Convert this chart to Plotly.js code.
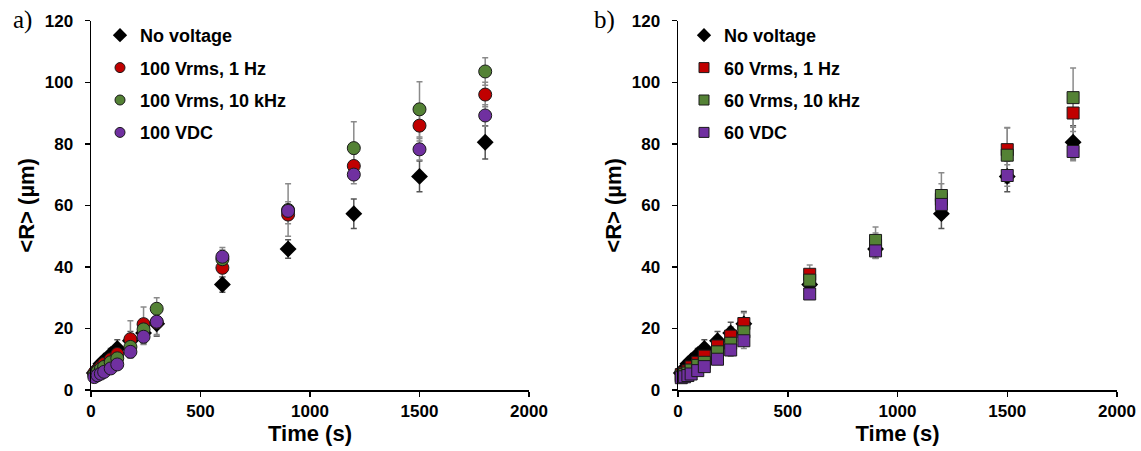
<!DOCTYPE html>
<html>
<head>
<meta charset="utf-8">
<script src="https://cdn.plot.ly/plotly-3.0.1.min.js"></script>
<style>html,body{margin:0;padding:0;background:#fff;}#chart{width:1141px;height:451px;}</style>
</head>
<body>
<div id="chart"></div>
<script>
// Time points (s)
const times = [15, 30, 45, 60, 90, 120, 180, 240, 300, 600, 900, 1200, 1500, 1800];

// Panel a) – 100 V
const noVoltage      = [5.5, 7, 8.5, 9.5, 11.5, 13.5, 16, 18.5, 21.5, 34.3, 45.8, 57.3, 69.4, 80.5];
const noVoltageErr   = [1, 1, 1.2, 1.5, 2, 2.8, 3, 3.5, 4, 2.5, 3, 4.8, 5, 5.4];
const a_1Hz          = [5.5, 6.5, 7.5, 8.5, 10, 11.7, 16.5, 21.4, 22, 39.7, 57, 72.8, 85.9, 96];
const a_1HzErr       = [0.8, 1, 1, 1.5, 2, 2.5, 6, 5.6, 4, 3, 3, 4, 5, 4];
const a_10kHz        = [5, 6, 6.8, 7.5, 9, 10.3, 14, 19.7, 26.4, 42.5, 58.5, 78.6, 91.2, 103.5];
const a_10kHzErr     = [0.5, 0.8, 1, 1, 1.5, 2, 2, 3, 3.6, 3, 8.5, 8.6, 9, 4.5];
const a_DC           = [4.2, 4.8, 5.3, 5.9, 7, 8.3, 12.4, 17.3, 22.2, 43.3, 58.2, 70, 78.2, 89.2];
const a_DCErr        = [0.5, 0.5, 0.8, 1, 1, 1.5, 2, 2.5, 4.5, 3, 3, 3, 3.5, 3.5];

// Panel b) – 60 V
const b_1Hz          = [5, 5.5, 6.2, 7.5, 9, 11, 14.3, 17.5, 21.6, 37.6, 47, 62, 78.1, 90];
const b_1HzErr       = [0.5, 0.8, 1, 1, 1.5, 2, 2.5, 3, 3.5, 3, 4, 5, 7, 6];
const b_10kHz        = [4.5, 5, 5.5, 6.5, 8, 9, 12.4, 15.2, 18.9, 35.7, 48.6, 63.2, 76.3, 95];
const b_10kHzErr     = [0.5, 0.8, 1, 1, 1.5, 2, 2, 2.5, 3, 2.5, 4.4, 7.4, 9, 9.6];
const b_DC           = [4, 4.3, 4.7, 5.2, 6.3, 7.6, 10, 13, 16, 31.2, 45.2, 60.3, 69.7, 77.5];
const b_DCErr        = [0.5, 0.5, 0.8, 1, 1, 1.5, 1.5, 2, 2.5, 1.5, 2.5, 3, 3.5, 3];

// Labels
const namesA = ["No voltage", "100 Vrms, 1 Hz", "100 Vrms, 10 kHz", "100 VDC"];
const namesB = ["No voltage", "60 Vrms, 1 Hz", "60 Vrms, 10 kHz", "60 VDC"];
const colors = ["#000000", "#C00000", "#548235", "#7030A0"];

const seriesA = [[noVoltage, noVoltageErr], [a_1Hz, a_1HzErr], [a_10kHz, a_10kHzErr], [a_DC, a_DCErr]];
const seriesB = [[noVoltage, noVoltageErr], [b_1Hz, b_1HzErr], [b_10kHz, b_10kHzErr], [b_DC, b_DCErr]];

function lineFor(symbol) {
  return symbol === "diamond" ? {color: "#000", width: 0} : {color: "#1a1a1a", width: 1};
}

const traces = [];
// 1) error bars (drawn underneath all markers)
function errTraces(series, xa, ya) {
  series.forEach((d, i) => traces.push({
    type: "scatter", mode: "markers", x: times, y: d[0], xaxis: xa, yaxis: ya, showlegend: false,
    marker: {size: 1, opacity: 0},
    error_y: {type: "data", array: d[1], visible: true, color: i === 0 ? "#555555" : "#8a8a8a", thickness: 1.5, width: 3}
  }));
}
// 2) markers
function markerTraces(series, names, symbolOther, sizeOther, xa, ya) {
  series.forEach((d, i) => {
    const sym = i === 0 ? "diamond" : symbolOther;
    traces.push({
      type: "scatter", mode: "markers", x: times, y: d[0], name: names[i], xaxis: xa, yaxis: ya,
      showlegend: false, cliponaxis: false,
      marker: {color: colors[i], symbol: sym, size: i === 0 ? 13 : sizeOther, line: lineFor(sym)}
    });
  });
}
// 3) legend entries (no data, small symbols as in the original legend)
function legendTraces(names, symbolOther, xa, ya, legend) {
  names.forEach((n, i) => {
    const sym = i === 0 ? "diamond" : symbolOther;
    traces.push({
      type: "scatter", mode: "markers", x: [null], y: [null], name: n, xaxis: xa, yaxis: ya,
      legend: legend, legendgroup: legend + i, showlegend: true,
      marker: {color: colors[i], symbol: sym, size: i === 0 ? 11 : 10, line: lineFor(sym)}
    });
  });
}

errTraces(seriesA, "x", "y");
errTraces(seriesB, "x2", "y2");
markerTraces(seriesA, namesA, "circle", 13, "x", "y");
markerTraces(seriesB, namesB, "square", 12, "x2", "y2");
legendTraces(namesA, "circle", "x", "y", "legend");
legendTraces(namesB, "square", "x2", "y2", "legend2");

const tickFont = {family: "Liberation Sans, Arial, sans-serif", size: 17, color: "#000", weight: "bold"};
const titleFont = {family: "Liberation Sans, Arial, sans-serif", size: 22, color: "#000", weight: "bold"};

function xax(domain, anchor) {
  return {domain: domain, anchor: anchor, range: [0, 2000], tickvals: [0, 500, 1000, 1500, 2000],
          showgrid: false, zeroline: false, showline: true, linecolor: "#000", linewidth: 1.5,
          ticks: "outside", ticklen: 5, tickwidth: 1.5, tickcolor: "#000", tickfont: tickFont,
          title: {text: "Time (s)", font: titleFont, standoff: 5}, automargin: false, fixedrange: true};
}
function yax(domain, anchor) {
  return {domain: domain, anchor: anchor, range: [0, 120], tickvals: [0, 20, 40, 60, 80, 100, 120],
          showgrid: false, zeroline: false, showline: true, linecolor: "#000", linewidth: 1.5,
          ticks: "outside", ticklen: 5, tickwidth: 1.5, tickcolor: "#000", tickfont: tickFont,
          ticklabelstandoff: 8,
          title: {text: "&lt;R&gt; (µm)", font: titleFont, standoff: 4}, automargin: false, fixedrange: true};
}

const yDom = [(451 - 390) / 451, (451 - 20.7) / 451];
const legendFont = {family: "Liberation Sans, Arial, sans-serif", size: 18, color: "#000", weight: "bold"};

const layout = {
  width: 1141, height: 451,
  margin: {l: 0, r: 0, t: 0, b: 0},
  paper_bgcolor: "#fff", plot_bgcolor: "#fff",
  xaxis: xax([91 / 1141, 529 / 1141], "y"),
  yaxis: yax(yDom, "x"),
  xaxis2: xax([678 / 1141, 1117 / 1141], "y2"),
  yaxis2: yax(yDom, "x2"),
  legend: {x: 100 / 1141, y: (451 - 17) / 451, xanchor: "left", yanchor: "top", bgcolor: "rgba(0,0,0,0)",
           font: legendFont, traceorder: "grouped", tracegroupgap: 6, borderwidth: 0},
  legend2: {x: 684 / 1141, y: (451 - 17) / 451, xanchor: "left", yanchor: "top", bgcolor: "rgba(0,0,0,0)",
            font: legendFont, traceorder: "grouped", tracegroupgap: 6, borderwidth: 0},
  showlegend: true,
  annotations: [
    {text: "a)", xref: "paper", yref: "paper", x: 11 / 1141, y: (451 - 20) / 451, xanchor: "left", yanchor: "middle",
     showarrow: false, font: {family: "Liberation Serif, Times New Roman, serif", size: 25, color: "#000"}},
    {text: "b)", xref: "paper", yref: "paper", x: 592 / 1141, y: (451 - 20) / 451, xanchor: "left", yanchor: "middle",
     showarrow: false, font: {family: "Liberation Serif, Times New Roman, serif", size: 25, color: "#000"}}
  ]
};

Plotly.newPlot("chart", traces, layout, {displayModeBar: false, staticPlot: true});
</script>
</body>
</html>
